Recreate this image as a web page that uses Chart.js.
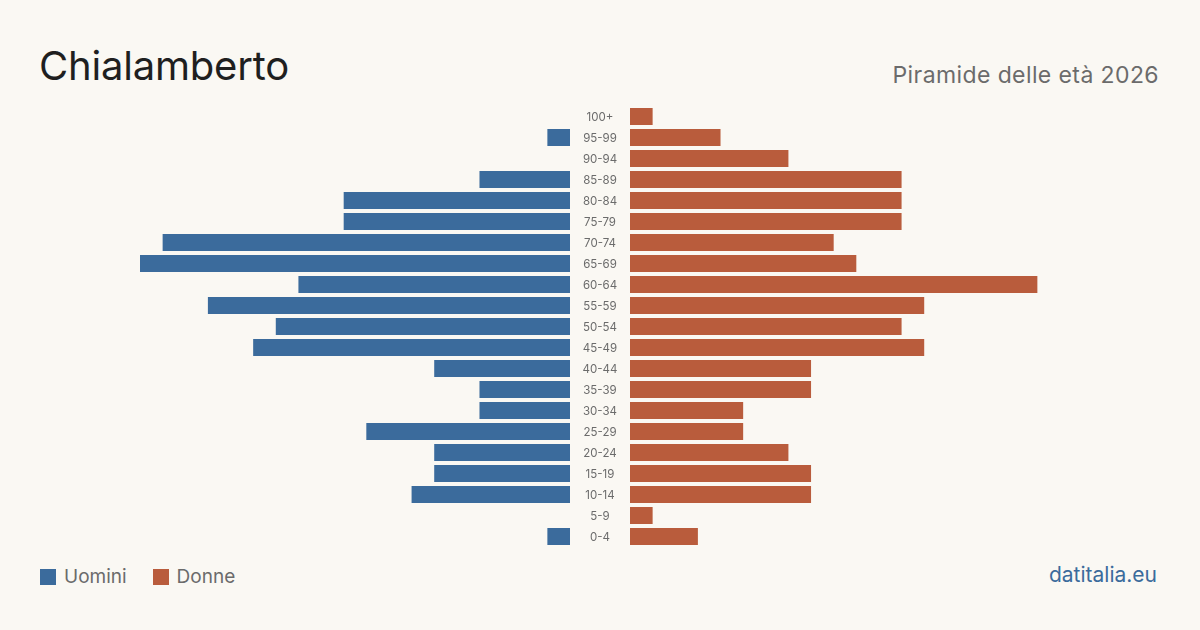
<!DOCTYPE html>
<html>
<head>
<meta charset="utf-8">
<script src="https://cdn.jsdelivr.net/npm/chart.js@4"></script>
<style>
  body { margin: 0; background: #faf8f3; font-family: Inter, "Noto Sans", sans-serif; }
  #page { position: relative; width: 1200px; height: 630px; overflow: hidden; }
  .title { position: absolute; left: 39px; top: 41px; font-size: 40px; color: #1f1f1f; letter-spacing: -0.2px; }
  .sub { position: absolute; right: 41px; top: 61px; font-size: 23px; color: #6b6b6b; letter-spacing: 0.4px; }
  .legend { position: absolute; left: 40px; top: 565px; font-size: 19px; color: #6b6b6b; display: flex; align-items: center; }
  .legend span.sw { display: inline-block; width: 16px; height: 16px; margin-right: 8px; }
  .legend span.tx { margin-right: 26px; }
  .src { position: absolute; right: 43px; top: 562px; font-size: 21px; color: #3b6b9c; }
  canvas { position: absolute; }
</style>
</head>
<body>
<div id="page">
  <div class="title">Chialamberto</div>
  <div class="sub">Piramide delle età 2026</div>
  <canvas id="left" width="430" height="441" style="left:140px;top:106px"></canvas>
  <canvas id="right" width="490" height="441" style="left:570px;top:106px"></canvas>
  <div class="legend">
    <span class="sw" style="background:#3b6b9c"></span><span class="tx">Uomini</span>
    <span class="sw" style="background:#b95c3c"></span><span class="tx">Donne</span>
  </div>
  <div class="src">datitalia.eu</div>
</div>
<script>
var ageGroups = ["0-4", "5-9", "10-14", "15-19", "20-24", "25-29", "30-34", "35-39", "40-44", "45-49",
  "50-54", "55-59", "60-64", "65-69", "70-74", "75-79", "80-84", "85-89", "90-94", "95-99", "100+"];
var uomini = [1, 0, 7, 6, 6, 9, 4, 4, 6, 14, 13, 16, 12, 19, 18, 10, 10, 4, 0, 1, 0];
var donne = [3, 1, 8, 8, 7, 5, 5, 8, 8, 13, 12, 13, 18, 10, 9, 12, 12, 12, 7, 4, 1];
var maxVal = 19;

var blue = "#3b6b9c";
var orange = "#b95c3c";

// age labels drawn in the gap between the two halves
var ageLabels = {
  id: "ageLabels",
  afterDraw: function (chart) {
    if (!chart.options.plugins.ageLabels.show) return;
    var ctx = chart.ctx;
    var y = chart.scales.y;
    ctx.save();
    ctx.fillStyle = "#6b6b6b";
    ctx.font = "11.5px Inter";
    ctx.textAlign = "center";
    ctx.textBaseline = "middle";
    ageGroups.forEach(function (g, i) {
      ctx.fillText(g, chart.chartArea.left - 30, y.getPixelForValue(i) + 1);
    });
    ctx.restore();
  }
};

function makeChart(id, data, color, isLeft) {
  return new Chart(document.getElementById(id), {
    type: "bar",
    data: {
      labels: ageGroups,
      datasets: [{
        data: data,
        backgroundColor: color,
        categoryPercentage: 1,
        barPercentage: 0.81
      }]
    },
    options: {
      indexAxis: "y",
      responsive: false,
      animation: false,
      layout: { padding: { left: isLeft ? 0 : 60, right: 0, top: 0, bottom: 0 } },
      plugins: {
        legend: { display: false },
        tooltip: { enabled: false },
        ageLabels: { show: !isLeft }
      },
      scales: {
        x: { display: false, min: 0, max: maxVal, reverse: isLeft },
        y: { display: false, reverse: true }
      }
    },
    plugins: [ageLabels]
  });
}

makeChart("left", uomini, blue, true);
makeChart("right", donne, orange, false);
</script>
</body>
</html>
